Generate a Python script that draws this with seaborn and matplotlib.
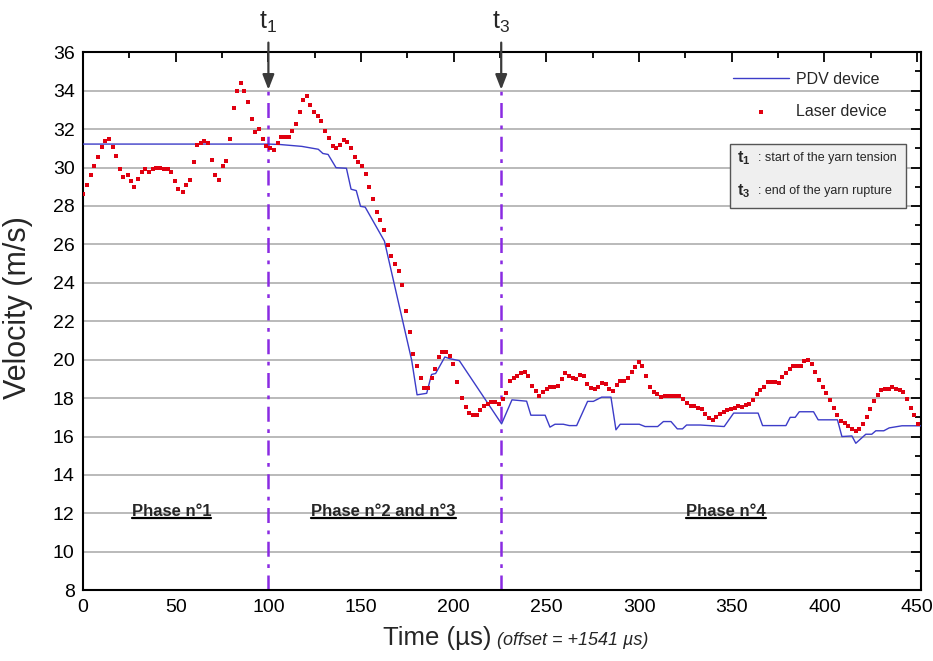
import matplotlib
matplotlib.use('Agg')
import pandas as pd
import matplotlib.pyplot as plt
import seaborn as sns
from matplotlib.patches import Rectangle
from matplotlib.lines import Line2D
from matplotlib.ticker import MultipleLocator

# laser device (red dots)
laser_time = [
    0.2, 2.0, 4.1, 6.1, 8.0, 10.0, 11.9, 13.9, 15.9, 17.9, 19.9, 21.8, 24.0, 25.8, 27.7, 29.7,
    31.7, 33.6, 35.6, 37.6, 39.5, 41.5, 43.5, 45.6, 47.6, 49.6, 51.5, 53.7, 55.6, 57.6, 59.6,
    61.5, 63.5, 65.5, 67.4, 69.4, 71.4, 73.3, 75.3, 77.3, 79.2, 81.2, 83.2, 85.2, 87.1, 89.1,
    91.0, 93.0, 95.0, 97.0, 98.9, 100.9, 102.9, 105.0, 107.0, 109.0, 111.0, 112.9, 114.9, 116.8,
    118.8, 120.8, 122.7, 124.7, 126.9, 128.6, 130.8, 132.8, 134.7, 136.7, 138.7, 140.6, 142.6,
    144.6, 146.6, 148.5, 150.5, 152.5, 154.4, 156.4, 158.4, 160.3, 162.3, 164.4, 166.4, 168.4,
    170.3, 172.3, 174.3, 176.2, 178.2, 180.2, 182.1, 184.1, 186.1, 188.0, 190.0, 192.0, 193.9,
    195.9, 197.9, 199.8, 201.8, 204.4, 206.4, 208.4, 210.3, 212.3, 214.3, 216.3, 218.3, 220.2,
    222.2, 224.2, 226.3, 228.3, 230.3, 232.3, 234.3, 236.3, 238.2, 240.2, 242.2, 244.2, 246.1,
    248.1, 250.1, 252.1, 254.2, 256.2, 258.2, 260.2, 262.2, 264.1, 266.1, 268.1, 270.1, 272.1,
    274.1, 276.0, 278.0, 280.0, 282.0, 284.0, 286.0, 288.0, 289.9, 291.9, 293.9, 295.9, 297.9,
    299.8, 301.8, 303.8, 305.8, 307.8, 309.8, 311.7, 313.7, 315.7, 317.7, 319.6, 321.6, 323.6,
    325.6, 327.8, 329.8, 331.8, 333.8, 335.7, 337.7, 339.7, 341.7, 343.7, 345.6, 347.6, 349.6,
    351.6, 353.5, 355.5, 357.5, 359.5, 361.4, 363.4, 365.4, 367.4, 369.3, 371.3, 373.3, 375.3,
    377.2, 379.2, 381.2, 383.1, 385.1, 387.1, 389.1, 391.1, 393.0, 395.0, 397.0, 399.0, 401.0,
    402.9, 404.9, 406.9, 408.9, 410.9, 412.9, 414.8, 416.8, 418.8, 420.8, 422.7, 424.7, 426.7,
    428.7, 430.7, 432.6, 434.6, 436.6, 438.6, 440.6, 442.5, 444.5, 446.5, 448.5, 450.5,
]
laser_velocity = [
    28.6, 29.1, 29.6, 30.1, 30.55, 31.05, 31.4, 31.5, 31.05, 30.6, 29.9, 29.5, 29.6, 29.3, 29.0, 29.4,
    29.75, 29.9, 29.75, 29.9, 30.0, 30.0, 29.9, 29.9, 29.75, 29.3, 28.9, 28.75, 29.1, 29.35, 30.3,
    31.15, 31.3, 31.4, 31.3, 30.4, 29.6, 29.35, 30.1, 30.35, 31.5, 33.1, 34.0, 34.4, 34.0, 33.4,
    32.5, 31.85, 32.0, 31.5, 31.1, 31.0, 30.9, 31.3, 31.6, 31.6, 31.6, 31.9, 32.28, 32.9,
    33.5, 33.72, 33.24, 32.88, 32.7, 32.4, 31.9, 31.56, 31.1, 31.0, 31.16, 31.45, 31.33,
    30.99, 30.56, 30.3, 30.1, 29.66, 29.0, 28.37, 27.67, 27.29, 26.75, 25.98, 25.38, 25.0,
    24.64, 23.88, 22.52, 21.42, 20.28, 19.66, 19.04, 18.54, 18.54, 19.04, 19.54, 20.16, 20.42,
    20.42, 20.18, 19.8, 18.85, 18.03, 17.53, 17.22, 17.1, 17.1, 17.4, 17.57, 17.67, 17.8,
    17.8, 17.7, 17.95, 18.24, 18.87, 19.04, 19.17, 19.3, 19.34, 19.13, 18.64, 18.38, 18.09,
    18.33, 18.5, 18.6, 18.6, 18.64, 19.0, 19.3, 19.17, 19.05, 19.0, 19.2, 19.13, 18.75,
    18.52, 18.45, 18.57, 18.78, 18.71, 18.49, 18.35, 18.68, 18.87, 18.87, 19.03, 19.36, 19.6,
    19.88, 19.69, 19.13, 18.6, 18.31, 18.21, 18.08, 18.1, 18.1, 18.1, 18.12, 18.12, 17.95,
    17.77, 17.6, 17.6, 17.51, 17.43, 17.18, 16.99, 16.87, 17.0, 17.18, 17.27, 17.36, 17.43,
    17.5, 17.6, 17.53, 17.63, 17.7, 17.88, 18.19, 18.43, 18.6, 18.82, 18.86, 18.86, 18.8,
    19.1, 19.3, 19.5, 19.65, 19.65, 19.65, 19.93, 19.96, 19.8, 19.34, 18.96, 18.6, 18.26,
    17.88, 17.51, 17.13, 16.82, 16.7, 16.56, 16.4, 16.31, 16.4, 16.66, 17.0, 17.43, 17.84,
    18.16, 18.4, 18.5, 18.5, 18.59, 18.5, 18.43, 18.31, 17.95, 17.5, 17.1, 16.64,
]

# PDV device (blue line) breakpoints
pdv_time = [
    0.0, 100.0, 105.9, 118.0, 126.9, 129.4, 132.2, 136.5, 142.1, 144.6, 147.4, 149.7, 152.2,
    162.6, 177.3, 180.2, 185.4, 188.0, 190.2, 195.2, 197.9, 203.0, 225.8, 231.4, 239.3, 241.6,
    249.3, 251.9, 254.6, 259.1, 262.3, 266.3, 272.2, 275.3, 279.8, 284.8, 287.5, 289.8, 300.1,
    303.2, 310.0, 313.1, 317.2, 320.6, 323.4, 325.6, 333.0, 345.9, 351.0, 364.2, 366.6, 379.2,
    381.5, 384.2, 386.4, 394.1, 396.6, 407.0, 409.4, 414.8, 416.9, 422.3, 425.5, 427.7, 432.0,
    434.9, 441.8, 452.0,
]
pdv_velocity = [
    31.22, 31.22, 31.2, 31.1, 30.95, 30.73, 30.68, 29.99, 29.96, 28.87, 28.8, 27.98, 27.94,
    26.17, 19.97, 18.17, 18.25, 19.23, 19.28, 20.14, 20.05, 19.95, 16.66, 17.91, 17.84, 17.11,
    17.11, 16.49, 16.64, 16.64, 16.57, 16.57, 17.83, 17.83, 18.05, 18.05, 16.35, 16.64, 16.64,
    16.52, 16.52, 16.78, 16.78, 16.4, 16.4, 16.6, 16.6, 16.52, 17.22, 17.22, 16.57, 16.57,
    17.0, 17.0, 17.29, 17.29, 16.87, 16.87, 16.0, 16.03, 15.65, 16.12, 16.12, 16.3, 16.3,
    16.45, 16.56, 16.56,
]

event_times = [100.0, 225.6]
event_names = ['1', '3']
event_notes = ['start of the yarn tension', 'end of the yarn rupture']
phase_labels = ['Phase n°1', 'Phase n°2 and n°3', 'Phase n°4']
phase_centers = [47.7, 162.0, 347.0]


def draw_chart():
    sns.set_style('white')
    plt.rcParams['font.family'] = ['Liberation Sans', 'DejaVu Sans']
    plt.rcParams['mathtext.fontset'] = 'custom'
    plt.rcParams['mathtext.rm'] = 'Liberation Sans'
    plt.rcParams['mathtext.bf'] = 'Liberation Sans:bold'
    plt.rcParams['mathtext.it'] = 'Liberation Sans:italic'

    fig = plt.figure(figsize=(9.33, 6.61), dpi=100)
    ax = fig.add_axes([0.089, 0.107, 0.898, 0.814])

    pdv_df = pd.DataFrame({'time': pdv_time, 'velocity': pdv_velocity})
    laser_df = pd.DataFrame({'time': laser_time, 'velocity': laser_velocity})

    ax.yaxis.grid(True, color='#b4b4b4', lw=1.3)
    ax.xaxis.grid(False)
    ax.set_axisbelow(True)

    for t in event_times:
        ax.vlines(t, 8, 34, colors='#8a2be2', linestyles=(0, (6, 3, 1.5, 3)), lw=1.8, zorder=2)

    sns.lineplot(data=pdv_df, x='time', y='velocity', ax=ax, color='#3c3cc8', lw=1.0,
                 label='PDV device', zorder=3)
    sns.scatterplot(data=laser_df, x='time', y='velocity', ax=ax, color='#e00010', marker='s',
                    s=7, linewidth=0, label='Laser device', zorder=4)

    ax.set_xlim(0, 452)
    ax.set_ylim(8, 36)
    ax.xaxis.set_major_locator(MultipleLocator(50))
    ax.xaxis.set_minor_locator(MultipleLocator(25))
    ax.yaxis.set_major_locator(MultipleLocator(2))
    ax.yaxis.set_minor_locator(MultipleLocator(1))
    ax.tick_params(which='both', direction='in', top=True, right=True, width=1.3,
                   labelsize=14, pad=6, colors='black')
    ax.tick_params(which='major', length=7)
    ax.tick_params(which='minor', length=4)
    for spine in ax.spines.values():
        spine.set_visible(True)
        spine.set_color('black')
        spine.set_linewidth(1.5)

    ax.set_xlabel('')
    ax.text(0.488, -0.102, 'Time (µs)', transform=ax.transAxes, ha='right', va='baseline',
            fontsize=18.5)
    ax.text(0.494, -0.102, '(offset = +1541 µs)', transform=ax.transAxes, ha='left',
            va='baseline', fontsize=13, style='italic')
    ax.set_ylabel('Velocity (m/s)', fontsize=22)
    ax.yaxis.set_label_coords(-0.060, 0.526)

    # event arrows above the plot
    for t, name in zip(event_times, event_names):
        ax.annotate('', xy=(t, 34.05), xytext=(t, 36.5), annotation_clip=False,
                    arrowprops=dict(arrowstyle='-|>,head_length=0.9,head_width=0.35',
                                    color='#3a3a3a', lw=1.6, shrinkA=0, shrinkB=0), zorder=6)
        ax.text(t, 37.55, r'$\mathrm{t_%s}$' % name, ha='center', va='center', fontsize=18,
                clip_on=False)

    ax.legend(loc='upper right', bbox_to_anchor=(0.977, 0.99), frameon=False,
              fontsize=11.5, handlelength=3.5, handletextpad=0.45, labelspacing=1.05,
              markerscale=1.2)

    ax.add_patch(Rectangle((0.772, 0.710), 0.210, 0.119, transform=ax.transAxes,
                           facecolor='#efefef', edgecolor='#555555', lw=1.0, zorder=7))
    for i, (name, note) in enumerate(zip(event_names, event_notes)):
        y = 0.803 - i * 0.061
        ax.text(0.780, y, r'$\mathbf{t_%s}$' % name, transform=ax.transAxes, ha='left',
                va='center', fontsize=11.5, zorder=8)
        ax.text(0.806, y, ': ' + note, transform=ax.transAxes, ha='left', va='center',
                fontsize=9, zorder=8)

    texts = []
    for x, label in zip(phase_centers, phase_labels):
        texts.append(ax.text(x, 11.85, label, ha='center', va='baseline', fontsize=12,
                             fontweight='bold'))
    fig.canvas.draw()
    renderer = fig.canvas.get_renderer()
    inv = ax.transAxes.inverted()
    for txt in texts:
        bb = txt.get_window_extent(renderer)
        (x0, y0), (x1, _) = inv.transform([(bb.x0, bb.y0 + 1.5), (bb.x1, bb.y0)])
        ax.add_line(Line2D([x0, x1], [y0, y0], transform=ax.transAxes, color='black', lw=1.6))

    fig.savefig('out.png', dpi=100)


if __name__ == '__main__':
    draw_chart()
